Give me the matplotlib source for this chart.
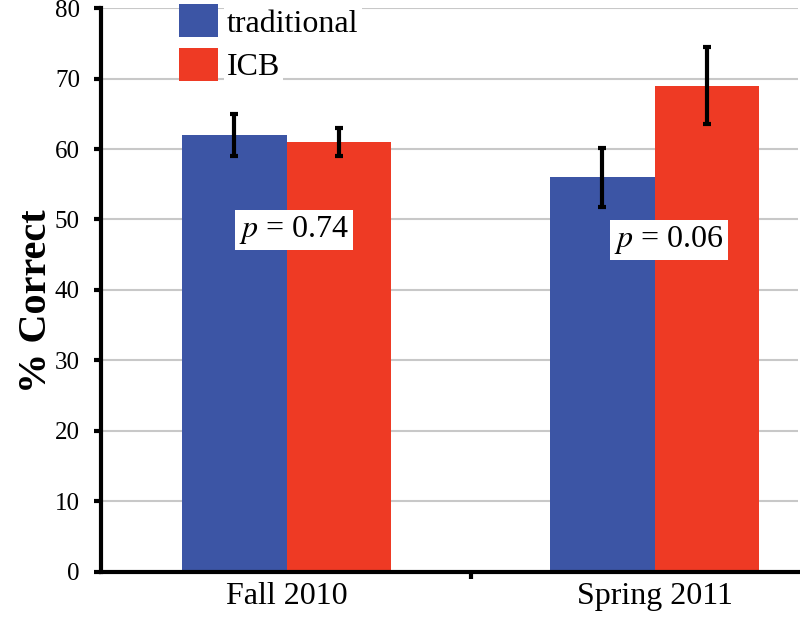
import numpy as np
import matplotlib
matplotlib.use('Agg')
import matplotlib.pyplot as plt
from matplotlib.patches import Patch

plt.rcParams['font.family'] = ['Liberation Serif', 'DejaVu Serif']
plt.rcParams['mathtext.fontset'] = 'stix'

semesters = ['Fall 2010', 'Spring 2011']
traditional = [62, 56]
traditional_err = [3, 4.2]
icb = [61, 69]
icb_err = [2, 5.5]
p_labels = ['0.74', '0.06']
p_pos = [(0.02, 48.5), (1.04, 47.1)]

blue = '#3C55A5'
red = '#EE3A24'

fig = plt.figure(figsize=(8, 6.17), dpi=100, facecolor='w')
ax = fig.add_axes([0.126, 0.073, 0.8715, 0.914])

x = np.arange(len(semesters))
w = 0.285
ax.bar(x - w/2, traditional, w, color=blue, zorder=2)
ax.bar(x + w/2, icb, w, color=red, zorder=2)
ax.errorbar(x - w/2, traditional, yerr=traditional_err, fmt='none', ecolor='k',
            elinewidth=3, capsize=3, capthick=3, zorder=3)
ax.errorbar(x + w/2, icb, yerr=icb_err, fmt='none', ecolor='k',
            elinewidth=3, capsize=3, capthick=3, zorder=3)

for (px, py), lab in zip(p_pos, p_labels):
    ax.text(px, py, r'$p$ = ' + lab, fontsize=23, ha='center', va='center', zorder=4,
            bbox=dict(facecolor='white', edgecolor='none', pad=3))

ax.set_xlim(-0.505, 1.39)
ax.set_ylim(0, 80)
ax.set_yticks(np.arange(0, 81, 10))
ax.yaxis.grid(True, color='#c8c8c8', linewidth=1.5, zorder=0)
ax.set_axisbelow(True)

ax.set_xticks(x)
ax.set_xticklabels(semesters, fontsize=23)
ax.set_xticks([0.5], minor=True)
ax.tick_params(axis='x', which='major', length=0, pad=7)
ax.tick_params(axis='x', which='minor', length=5, width=3, direction='out')
ax.tick_params(axis='y', labelsize=18, length=5, width=3, pad=10)

for s in ['top', 'right']:
    ax.spines[s].set_visible(False)
ax.spines['left'].set_linewidth(3)
ax.spines['bottom'].set_linewidth(3)

ax.set_ylabel('% Correct', fontsize=29, fontweight='bold')
ax.yaxis.set_label_coords(-0.066, 0.48)

handles = [Patch(facecolor=blue), Patch(facecolor=red)]
leg = ax.legend(handles, ['traditional', 'ICB'], loc='upper left',
                bbox_to_anchor=(0.108, 1.012), fontsize=23, frameon=False,
                handlelength=1.2, handleheight=1.2, handletextpad=0.3,
                labelspacing=0.3, borderpad=0.1, borderaxespad=0)
for t in leg.get_texts():
    t.set_bbox(dict(facecolor='white', edgecolor='none', pad=2))
leg.set_zorder(5)

plt.savefig('out.png', dpi=100)
